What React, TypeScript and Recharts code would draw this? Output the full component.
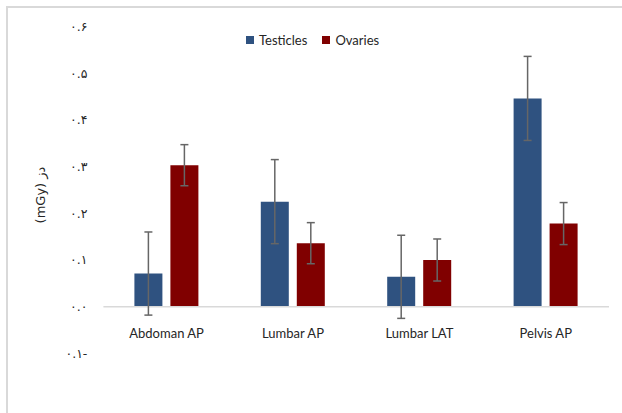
import { BarChart, Bar, XAxis, YAxis, ErrorBar, ReferenceLine } from "recharts"

const categories = ["Abdoman AP", "Lumbar AP", "Lumbar LAT", "Pelvis AP"]
const testicles = [0.071, 0.225, 0.064, 0.446]
const testiclesErr = [0.089, 0.09, 0.089, 0.09]
const ovaries = [0.303, 0.136, 0.1, 0.178]
const ovariesErr = [0.044, 0.044, 0.045, 0.045]
const yTicks = [-0.1, 0, 0.1, 0.2, 0.3, 0.4, 0.5, 0.6]
const yTickLabels = ["۰.۱-", "۰.۰", "۰.۱", "۰.۲", "۰.۳", "۰.۴", "۰.۵", "۰.۶"]

const BLUE = "#2f5280"
const RED = "#800000"
const TEXT = "#262626"
const FONT = "Lato, 'Open Sans', sans-serif"

const data = categories.map((name, i) => ({
  name,
  testicles: testicles[i],
  testiclesErr: testiclesErr[i],
  ovaries: ovaries[i],
  ovariesErr: ovariesErr[i],
}))

function CategoryTick(props: any) {
  const { x, y, payload } = props
  return (
    <text x={x} y={y - 15} textAnchor="middle" fill={TEXT} fontFamily={FONT} fontSize={13}>
      {payload.value}
    </text>
  )
}

function LegendItem({ color, label }: { color: string; label: string }) {
  return (
    <div style={{ display: "flex", alignItems: "center", marginRight: 15 }}>
      <span style={{ width: 8, height: 8, background: color, marginRight: 5, display: "inline-block" }} />
      <span>{label}</span>
    </div>
  )
}

export default function App() {
  return (
    <div style={{ position: "absolute", left: 0, top: 0, width: 622, height: 413, background: "#fff", overflow: "hidden" }}>
      <div
        style={{
          position: "absolute",
          left: 6,
          top: 6,
          width: 700,
          height: 500,
          borderLeft: "2px solid #d9d9d9",
          borderTop: "2px solid #d9d9d9",
        }}
      />
      <BarChart
        width={622}
        height={413}
        data={data}
        margin={{ top: 26.5, right: 13, bottom: 29.6, left: 0 }}
        barSize={28}
        barGap={8}
      >
        <YAxis
          width={103.4}
          domain={[-0.1, 0.6]}
          ticks={yTicks}
          tickFormatter={(v: number) => yTickLabels[yTicks.indexOf(v)] ?? ""}
          axisLine={false}
          tickLine={false}
          tickMargin={10}
          tick={{ fill: TEXT, fontSize: 12.5, fontFamily: "'DejaVu Sans', sans-serif" }}
          allowDataOverflow
        />
        <XAxis
          dataKey="name"
          height={30}
          axisLine={false}
          tickLine={false}
          tickSize={0}
          tickMargin={0}
          tick={<CategoryTick />}
          interval={0}
        />
        <ReferenceLine y={0} stroke="#d9d9d9" strokeWidth={1.5} />
        <Bar dataKey="testicles" fill={BLUE} isAnimationActive={false}>
          <ErrorBar dataKey="testiclesErr" stroke="#666" strokeWidth={1.5} width={4} />
        </Bar>
        <Bar dataKey="ovaries" fill={RED} isAnimationActive={false}>
          <ErrorBar dataKey="ovariesErr" stroke="#666" strokeWidth={1.5} width={4} />
        </Bar>
      </BarChart>
      <div
        style={{
          position: "absolute",
          left: 246,
          top: 31,
          display: "flex",
          fontFamily: FONT,
          fontSize: 13,
          color: TEXT,
          lineHeight: "18px",
        }}
      >
        <LegendItem color={BLUE} label="Testicles" />
        <LegendItem color={RED} label="Ovaries" />
      </div>
      <div
        style={{
          position: "absolute",
          left: 40,
          top: 195,
          transform: "translate(-50%, -50%) rotate(-90deg)",
          whiteSpace: "nowrap",
          fontFamily: "'DejaVu Sans', sans-serif",
          fontSize: 13,
          color: TEXT,
        }}
      >
        (mGy) دز
      </div>
    </div>
  )
}
